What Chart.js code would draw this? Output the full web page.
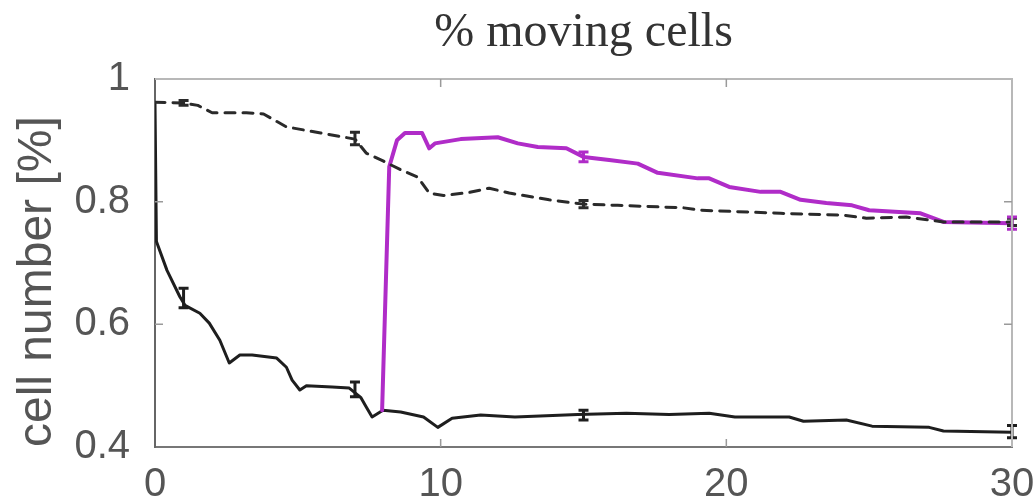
<!DOCTYPE html>
<html>
<head>
<meta charset="utf-8">
<script src="https://cdn.jsdelivr.net/npm/chart.js@4"></script>
<style>
html,body{margin:0;padding:0;background:#fff;}
#wrap{width:1036px;height:503px;}
</style>
</head>
<body>
<div id="wrap"><canvas id="c" width="1036" height="503"></canvas></div>
<script>
// ---- data ----
const titleText = "% moving cells";
const yTitle = "cell number [%]";
const xTicks = [0, 10, 20, 30];
const yTicks = [0.4, 0.6, 0.8, 1];

const solidX = [0, 0.05, 0.42, 0.87, 1.05, 1.57, 1.9, 2.27, 2.6, 2.97, 3.4, 4.26, 4.6, 4.8, 5.07, 5.3, 6.2, 6.8, 7.2, 7.4, 7.6, 7.98, 8.6, 9.4, 9.9, 10.4, 11.4, 12.6, 14.8, 16.5, 18, 19.4, 20.3, 22.2, 22.7, 24.2, 25.1, 27.1, 27.6, 30];
const solidY = [0.96, 0.735, 0.688, 0.645, 0.631, 0.618, 0.602, 0.574, 0.537, 0.55, 0.55, 0.545, 0.53, 0.509, 0.493, 0.5, 0.498, 0.496, 0.481, 0.465, 0.449, 0.46, 0.457, 0.449, 0.432, 0.447, 0.452, 0.449, 0.453, 0.455, 0.453, 0.455, 0.449, 0.449, 0.442, 0.444, 0.434, 0.432, 0.426, 0.424];

const dashedX = [0, 1, 1.5, 2, 3.2, 3.8, 4.6, 5.8, 7, 7.4, 8, 8.6, 9.2, 9.6, 10.1, 11, 11.7, 12.4, 13.8, 15, 16.2, 18.5, 19.1, 21.9, 24.1, 24.9, 26.3, 27.6, 30];
const dashedY = [0.962, 0.961, 0.957, 0.945, 0.945, 0.943, 0.922, 0.912, 0.902, 0.879, 0.866, 0.852, 0.84, 0.814, 0.81, 0.815, 0.822, 0.814, 0.803, 0.796, 0.794, 0.79, 0.786, 0.781, 0.778, 0.773, 0.775, 0.767, 0.767];

const magentaX = [7.95, 8.2, 8.47, 8.75, 9.35, 9.6, 9.8, 10.7, 12, 12.7, 13.4, 14.4, 15, 15.9, 16.9, 17.6, 19, 19.4, 20.1, 21.2, 21.9, 22.6, 23.5, 24.4, 25, 26.8, 27.6, 30];
const magentaY = [0.46, 0.857, 0.9, 0.912, 0.912, 0.887, 0.895, 0.902, 0.905, 0.895, 0.889, 0.887, 0.873, 0.868, 0.862, 0.847, 0.838, 0.838, 0.824, 0.816, 0.816, 0.803, 0.798, 0.794, 0.786, 0.781, 0.767, 0.765];

// error bars: x positions, centres, half-widths
const solidErrX = [1, 7, 15, 30];
const solidErrY = [0.643, 0.494, 0.452, 0.425];
const solidErrD = [0.016, 0.012, 0.008, 0.01];
const dashedErrX = [1, 7, 15, 30];
const dashedErrY = [0.961, 0.903, 0.796, 0.767];
const dashedErrD = [0.004, 0.01, 0.006, 0.006];
const magentaErrX = [15, 30];
const magentaErrY = [0.873, 0.765];
const magentaErrD = [0.008, 0.01];

const pts = (xs, ys) => xs.map((v, i) => ({x: v, y: ys[i]}));

const errorBarPlugin = {
  id: 'errorBars',
  afterDatasetsDraw(chart) {
    const ctx = chart.ctx, xs = chart.scales.x, ys = chart.scales.y;
    chart.data.datasets.forEach(ds => {
      const e = ds.errBars; if (!e) return;
      ctx.save();
      ctx.strokeStyle = ds.borderColor; ctx.lineWidth = 3; ctx.setLineDash([]);
      e.x.forEach((xv, i) => {
        const px = xs.getPixelForValue(xv);
        const p1 = ys.getPixelForValue(e.y[i] - e.d[i]);
        const p2 = ys.getPixelForValue(e.y[i] + e.d[i]);
        ctx.beginPath();
        ctx.moveTo(px, p1); ctx.lineTo(px, p2);
        ctx.moveTo(px - 5, p1); ctx.lineTo(px + 5, p1);
        ctx.moveTo(px - 5, p2); ctx.lineTo(px + 5, p2);
        ctx.stroke();
      });
      ctx.restore();
    });
  }
};

const boxPlugin = {
  id: 'box',
  afterDraw(chart) {
    const ctx = chart.ctx, a = chart.chartArea, xs = chart.scales.x, ys = chart.scales.y;
    ctx.save();
    ctx.lineWidth = 2;
    ctx.strokeStyle = '#b8b8b8';
    ctx.beginPath();
    ctx.moveTo(a.left, a.top); ctx.lineTo(a.right, a.top); ctx.lineTo(a.right, a.bottom);
    ctx.stroke();
    ctx.strokeStyle = '#9a9a9a';
    ctx.lineWidth = 1.5;
    ctx.beginPath();
    xs.ticks.forEach(t => {
      if (t.value <= xs.min || t.value >= xs.max) return;
      const px = xs.getPixelForValue(t.value);
      ctx.moveTo(px, a.bottom); ctx.lineTo(px, a.bottom - 8);
      ctx.moveTo(px, a.top); ctx.lineTo(px, a.top + 8);
    });
    ys.ticks.forEach(t => {
      if (t.value <= ys.min || t.value >= ys.max) return;
      const py = ys.getPixelForValue(t.value);
      ctx.moveTo(a.left, py); ctx.lineTo(a.left + 8, py);
      ctx.moveTo(a.right, py); ctx.lineTo(a.right - 8, py);
    });
    ctx.stroke();
    ctx.restore();
  }
};

new Chart(document.getElementById('c'), {
  type: 'line',
  data: {
    datasets: [
      {data: pts(dashedX, dashedY), borderColor: '#2a2a2a', borderWidth: 3, borderDash: [10, 8],
       errBars: {x: dashedErrX, y: dashedErrY, d: dashedErrD}},
      {data: pts(magentaX, magentaY), borderColor: '#b02cc8', borderWidth: 4,
       errBars: {x: magentaErrX, y: magentaErrY, d: magentaErrD}},
      {data: pts(solidX, solidY), borderColor: '#1e1e1e', borderWidth: 3,
       errBars: {x: solidErrX, y: solidErrY, d: solidErrD}}
    ]
  },
  options: {
    responsive: false,
    animation: false,
    devicePixelRatio: 1,
    elements: {point: {radius: 0}, line: {tension: 0, borderCapStyle: 'round', borderJoinStyle: 'round'}},
    layout: {padding: {left: 0, right: 24, top: 0, bottom: 0}},
    plugins: {
      legend: {display: false},
      tooltip: {enabled: false},
      title: {
        display: true, text: titleText, fullSize: false,
        color: '#333', font: {family: 'Liberation Serif', size: 48, weight: 'normal', lineHeight: 1.2},
        padding: {top: 5, bottom: 16.4}
      }
    },
    scales: {
      x: {
        type: 'linear', min: 0, max: 30,
        afterBuildTicks: s => { s.ticks = xTicks.map(v => ({value: v})); },
        afterFit: s => { s.height = 56; s.paddingLeft = 0; s.paddingRight = 0; },
        ticks: {color: '#555', font: {family: 'Liberation Sans', size: 40, lineHeight: 1.0}, padding: 18, autoSkip: false, maxRotation: 0,
                callback: v => String(v)},
        grid: {display: true, drawOnChartArea: false, drawTicks: false},
        border: {display: true, color: '#777', width: 2}
      },
      y: {
        min: 0.4, max: 1,
        afterBuildTicks: s => { s.ticks = yTicks.map(v => ({value: v})); },
        afterFit: s => { s.width = 155; s.paddingTop = 0; s.paddingBottom = 0; },
        ticks: {color: '#555', font: {family: 'Liberation Sans', size: 40}, padding: 25,
                callback: v => String(+v.toFixed(1))},
        grid: {display: true, drawOnChartArea: false, drawTicks: false},
        border: {display: true, color: '#666', width: 2},
        title: {display: true, text: yTitle, align: 'start', color: '#555',
                font: {family: 'Liberation Sans', size: 48, lineHeight: 1.2}, padding: {top: 9, bottom: 0}}
      }
    }
  },
  plugins: [errorBarPlugin, boxPlugin]
});
</script>
</body>
</html>
